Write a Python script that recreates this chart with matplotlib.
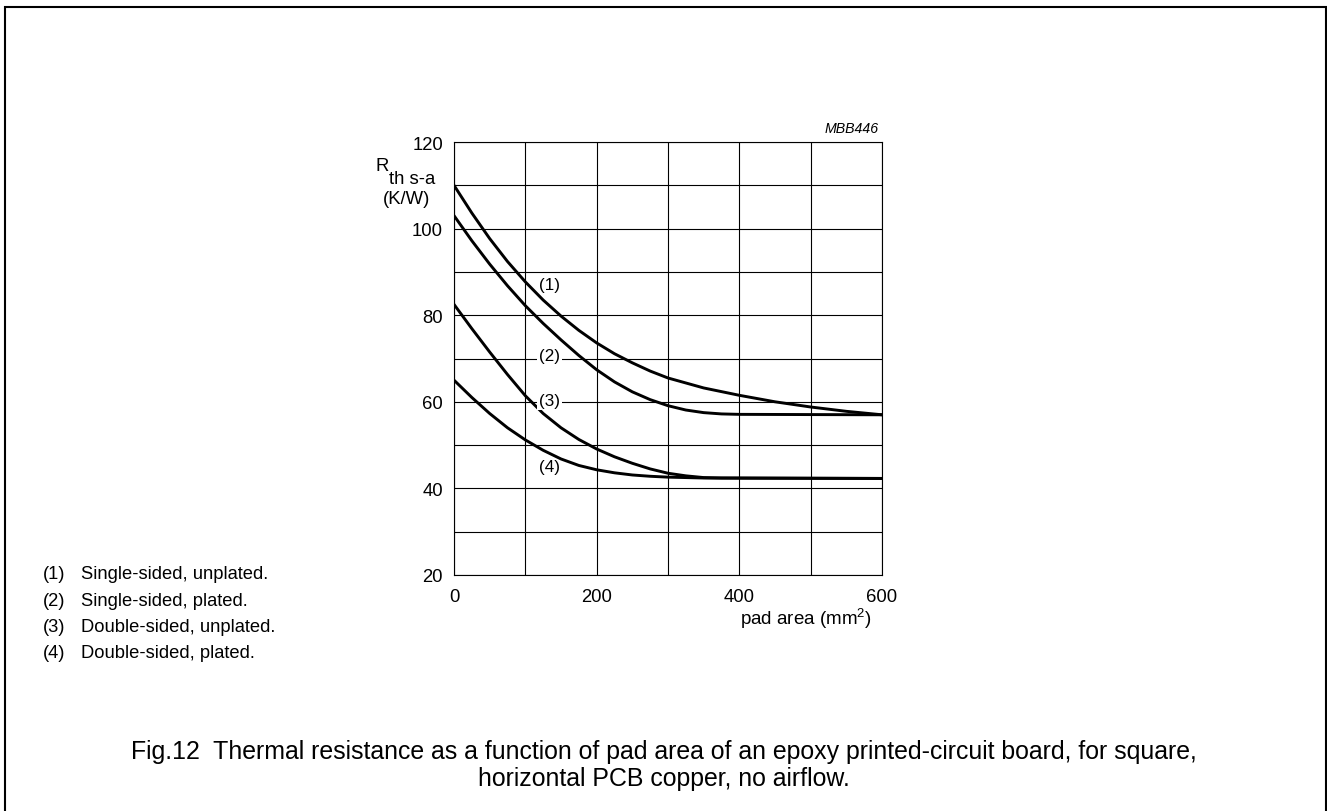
import matplotlib
matplotlib.use("Agg")
import matplotlib.pyplot as plt
from matplotlib.patches import Rectangle

plt.rcParams['font.family'] = ['Liberation Sans', 'DejaVu Sans']
plt.rcParams['mathtext.fontset'] = 'custom'
plt.rcParams['mathtext.rm'] = 'Liberation Sans'
plt.rcParams['mathtext.default'] = 'regular'

# values (pad area mm^2 -> K/W)
x1 = [0, 25, 50, 75, 100, 125, 150, 175, 200, 225, 250, 275, 300, 350, 400, 450, 500, 550, 600]
y1 = [110, 103.6, 97.7, 92.4, 87.7, 83.5, 79.8, 76.5, 73.6, 71.1, 69.0, 67.1, 65.5, 63.2, 61.5,
      60.0, 58.8, 57.8, 57.0]

x2 = [0, 25, 50, 75, 100, 125, 150, 175, 200, 225, 250, 275, 300, 325, 350, 375, 400, 600]
y2 = [103, 97.2, 91.8, 86.8, 82.2, 78.1, 74.3, 70.7, 67.4, 64.6, 62.3, 60.5, 59.1, 58.1, 57.5,
      57.2, 57.1, 57.0]

x3 = [0, 25, 50, 75, 100, 125, 150, 175, 200, 225, 250, 275, 300, 325, 350, 375, 600]
y3 = [82.5, 76.9, 71.5, 66.3, 61.4, 57.3, 54.0, 51.3, 49.1, 47.3, 45.8, 44.5, 43.5, 42.9, 42.5,
      42.4, 42.3]

x4 = [0, 25, 50, 75, 100, 125, 150, 175, 200, 225, 250, 275, 300, 350, 600]
y4 = [65, 61, 57.3, 54, 51.2, 48.8, 46.8, 45.3, 44.3, 43.6, 43.1, 42.8, 42.6, 42.4, 42.3]

curve_labels = ["(1)", "(2)", "(3)", "(4)"]
label_pos = [(134, 87.1), (134, 70.8), (134, 60.2), (134, 45.0)]
label_box = [False, True, True, False]

legend_lines = ["Single-sided, unplated.", "Single-sided, plated.",
                "Double-sided, unplated.", "Double-sided, plated."]

xticks = [0, 200, 400, 600]
yticks = [20, 40, 60, 80, 100, 120]

W, H = 1327, 812
fig = plt.figure(figsize=(W / 100, H / 100), dpi=100)
ax = fig.add_axes([454 / W, 1 - 576 / H, (882 - 454) / W, (576 - 143) / H])

for xs, ys in [(x1, y1), (x2, y2), (x3, y3), (x4, y4)]:
    ax.plot(xs, ys, color='black', lw=2.1, solid_joinstyle='round', zorder=3)

ax.set_xlim(0, 600)
ax.set_ylim(20, 120)
ax.set_xticks(xticks, [str(v) for v in xticks])
ax.set_yticks(yticks, [str(v) for v in yticks])
ax.set_xticks(range(0, 601, 100), minor=True)
ax.set_yticks(range(20, 121, 10), minor=True)
ax.grid(True, which='both', color='black', lw=0.8)
ax.tick_params(which='both', length=0)
ax.tick_params(axis='y', labelsize=13.3, pad=8)
ax.tick_params(axis='x', labelsize=13.3, pad=9)
for s in ax.spines.values():
    s.set_linewidth(0.8)

for lab, (lx, ly), boxed in zip(curve_labels, label_pos, label_box):
    kw = {}
    if boxed:
        kw['bbox'] = dict(facecolor='white', edgecolor='none', pad=1.5)
    ax.text(lx, ly, lab, fontsize=12.3, ha='center', va='center', zorder=4, **kw)

# axis labels
fig.text(389 / W, 1 - 167 / H, "R", fontsize=13.3, ha='right', va='center')
fig.text(389 / W, 1 - 180 / H, "th s-a", fontsize=13.3, ha='left', va='center')
fig.text(407 / W, 1 - 199 / H, "(K/W)", fontsize=13.3, ha='center', va='center')
fig.text(872 / W, 1 - 619 / H, "pad area (mm$^{2}$)", fontsize=13.5, ha='right', va='center')
fig.text(879 / W, 1 - 129 / H, "MBB446", fontsize=10.2, style='italic', ha='right', va='center')

# notes
for i, line in enumerate(legend_lines):
    yy = 1 - (575 + i * 26.3) / H
    fig.text(43 / W, yy, f"({i + 1})", fontsize=13.2, va='center')
    fig.text(81 / W, yy, line, fontsize=13.2, va='center')

fig.text(0.5, 1 - 752 / H,
         "Fig.12  Thermal resistance as a function of pad area of an epoxy printed-circuit board, for square,",
         fontsize=17.9, ha='center', va='center')
fig.text(0.5, 1 - 779 / H, "horizontal PCB copper, no airflow.",
         fontsize=17.9, ha='center', va='center')

fig.patches.append(Rectangle((5 / W, -0.01), (1326 - 5) / W, 1.01 - 8 / H,
                             transform=fig.transFigure, fill=False,
                             edgecolor='black', lw=1.5))

fig.savefig("out.png", dpi=100)
